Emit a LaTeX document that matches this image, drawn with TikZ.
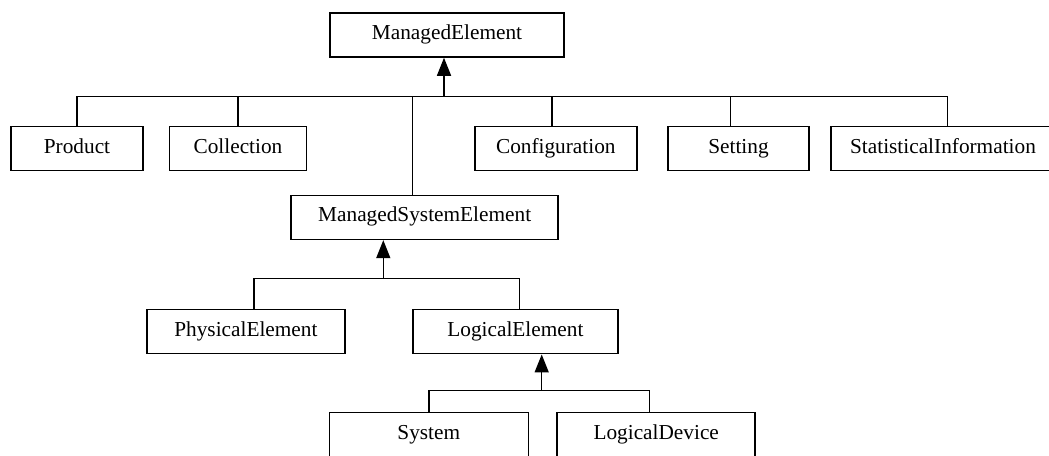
\documentclass[tikz,border=0pt]{standalone}
\usepackage{fontspec}
\setmainfont{Liberation Serif}
\usetikzlibrary{arrows.meta}
\tikzset{
  cls/.style={draw, line width=1.5pt, rectangle, minimum height=44pt, inner sep=0pt,
    text height=14pt, text depth=5pt,
    font=\fontsize{21.3}{24}\selectfont},
  link/.style={line width=1.5pt},
  inh/.style={line width=1.5pt, -{Triangle[length=18pt,width=14pt]}}
}
\begin{document}
\begin{tikzpicture}[x=1pt,y=-1pt]
\useasboundingbox (0,0) rectangle (1049,455);
\clip (0,0) rectangle (1049,455);
\fill[white] (0,0) rectangle (1049,455);

% class boxes
\node[cls, minimum width=234pt]   (me)   at (447,35)    {ManagedElement};
\node[cls, minimum width=132pt]   (prod) at (77,148.5)  {Product};
\node[cls, minimum width=137pt]   (coll) at (238,148.5) {Collection};
\node[cls, minimum width=162pt]   (conf) at (555.8,148.5) {Configuration};
\node[cls, minimum width=141pt]   (sett) at (738.5,148.5) {Setting};
\node[cls, minimum width=224pt]   (stat) at (943,148.5) {StatisticalInformation};
\node[cls, minimum width=267pt]   (mse)  at (424.7,217.4) {ManagedSystemElement};
\node[cls, minimum width=198pt]   (phys) at (245.9,331.7) {PhysicalElement};
\node[cls, minimum width=205pt]   (logl) at (515.4,331.7) {LogicalElement};
\node[cls, minimum width=199pt]   (sys)  at (428.8,434.6) {System};
\node[cls, minimum width=198pt]   (ldev) at (656.2,434.6) {LogicalDevice};

% generalisation of ManagedElement
\coordinate (t1) at (444,96.7);
\coordinate (s5) at ([xshift=4.7pt]stat.north);
\draw[inh] (t1) -- (t1 |- me.south);
\draw[link] (prod.north) |- (t1) -| (s5);
\draw[link] (coll.north) -- (coll.north |- t1);
\draw[link] ([xshift=-3.8pt]conf.north) -- ([xshift=-3.8pt]conf.north |- t1);
\draw[link] ([xshift=-8.2pt]sett.north) -- ([xshift=-8.2pt]sett.north |- t1);
\draw[link] ([xshift=-12pt]mse.north) -- ([xshift=-12pt]mse.north |- t1);

% generalisation of ManagedSystemElement
\coordinate (t2) at (383.3,278.7);
\coordinate (p2) at ([xshift=8.1pt]phys.north);
\coordinate (l2) at ([xshift=3.9pt]logl.north);
\draw[inh] (t2) -- (t2 |- mse.south);
\draw[link] (p2) |- (t2) -| (l2);

% generalisation of LogicalElement
\coordinate (t3) at (541.7,390.7);
\coordinate (l3) at ([xshift=-6.9pt]ldev.north);
\draw[inh] (t3) -- (t3 |- logl.south);
\draw[link] (sys.north) |- (t3) -| (l3);
\end{tikzpicture}
\end{document}
